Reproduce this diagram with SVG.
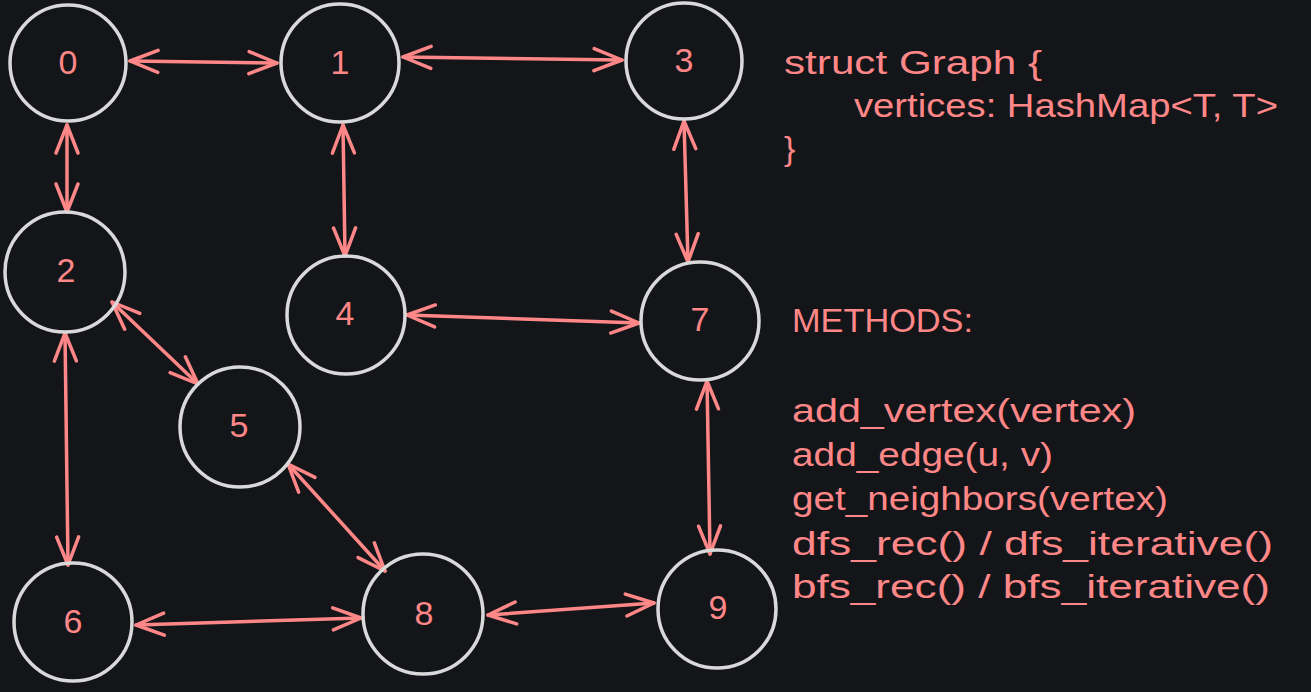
<svg xmlns="http://www.w3.org/2000/svg" width="1311" height="692" viewBox="0 0 1311 692">
<defs>
<style>
.node circle{fill:none;stroke:#d9d9d9;stroke-width:3.5}
.node text{fill:#ff8787;font-family:"Liberation Sans",Arial,sans-serif;font-size:34px;text-anchor:middle}
.edge{fill:none;stroke:#ff8787;stroke-width:3.5;stroke-linecap:round;marker-start:url(#ah);marker-end:url(#ah)}
.code{fill:#ff8787;font-family:"Liberation Sans",Arial,sans-serif;font-size:34px}
</style>
<marker id="ah" markerUnits="userSpaceOnUse" markerWidth="36" markerHeight="30" viewBox="-32 -15 36 30" refX="0" refY="0" orient="auto-start-reverse">
<path d="M-28,-11 L0,0 L-28,11" fill="none" stroke="#ff8787" stroke-width="3.5" stroke-linecap="round" stroke-linejoin="round"/>
</marker>
</defs>
<rect x="0" y="0" width="1311" height="692" fill="#131519"/>
<g id="edges">
<line class="edge" x1="130" y1="61" x2="277" y2="63"/>
<line class="edge" x1="403" y1="57" x2="622" y2="60"/>
<line class="edge" x1="67" y1="125" x2="67" y2="212"/>
<line class="edge" x1="343" y1="125" x2="345" y2="256"/>
<line class="edge" x1="684" y1="121" x2="688" y2="262"/>
<line class="edge" x1="112" y1="302" x2="198" y2="384"/>
<line class="edge" x1="407" y1="315" x2="639" y2="323"/>
<line class="edge" x1="65" y1="333" x2="68" y2="565"/>
<line class="edge" x1="288" y1="464" x2="385" y2="571"/>
<line class="edge" x1="707" y1="381" x2="710" y2="554"/>
<line class="edge" x1="136" y1="625" x2="361" y2="618"/>
<line class="edge" x1="488" y1="615" x2="654" y2="603"/>
</g>
<g id="node-0" class="node"><circle cx="68" cy="63" r="58"/><text x="68" y="74">0</text></g>
<g id="node-1" class="node"><circle cx="340" cy="63" r="59"/><text x="340" y="74">1</text></g>
<g id="node-3" class="node"><circle cx="684" cy="61" r="58"/><text x="684" y="72">3</text></g>
<g id="node-2" class="node"><circle cx="65" cy="272" r="60"/><text x="66" y="282">2</text></g>
<g id="node-4" class="node"><circle cx="346" cy="315" r="59"/><text x="345" y="325">4</text></g>
<g id="node-7" class="node"><circle cx="700" cy="321" r="59"/><text x="700" y="331">7</text></g>
<g id="node-5" class="node"><circle cx="240" cy="427" r="60"/><text x="239" y="437">5</text></g>
<g id="node-6" class="node"><circle cx="73" cy="622" r="59"/><text x="73" y="633">6</text></g>
<g id="node-8" class="node"><circle cx="423" cy="614" r="60"/><text x="424" y="625">8</text></g>
<g id="node-9" class="node"><circle cx="717" cy="609" r="59"/><text x="718" y="619">9</text></g>
<g id="struct-text">
<text class="code" x="784" y="74" textLength="258" lengthAdjust="spacingAndGlyphs">struct Graph {</text>
<text class="code" x="854" y="117" textLength="424" lengthAdjust="spacingAndGlyphs">vertices: HashMap&lt;T, T&gt;</text>
<text class="code" x="784" y="160">}</text>
</g>
<g id="methods-text">
<text class="code" x="792" y="332" textLength="181" lengthAdjust="spacingAndGlyphs">METHODS:</text>
<text class="code" x="792" y="422" textLength="344" lengthAdjust="spacingAndGlyphs">add_vertex(vertex)</text>
<text class="code" x="792" y="466" textLength="261" lengthAdjust="spacingAndGlyphs">add_edge(u, v)</text>
<text class="code" x="792" y="510" textLength="376" lengthAdjust="spacingAndGlyphs">get_neighbors(vertex)</text>
<text class="code" x="792" y="555" textLength="481" lengthAdjust="spacingAndGlyphs">dfs_rec() / dfs_iterative()</text>
<text class="code" x="792" y="598" textLength="478" lengthAdjust="spacingAndGlyphs">bfs_rec() / bfs_iterative()</text>
</g>
</svg>
